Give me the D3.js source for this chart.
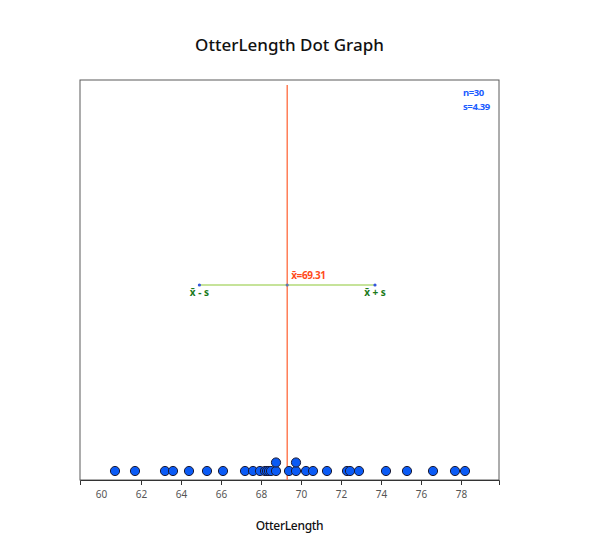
<!DOCTYPE html>
<html>
<head>
<meta charset="utf-8">
<script src="https://cdn.jsdelivr.net/npm/d3@7"></script>
<style>
  body { margin: 0; background: #fff; }
  svg { font-family: "Noto Sans", "Open Sans", sans-serif; }
</style>
</head>
<body>
<svg id="chart" width="600" height="560"></svg>
<script>
const title = "OtterLength Dot Graph";
const xLabel = "OtterLength";
const otterLength = [60.7, 61.7, 63.2, 63.6, 64.4, 65.3, 66.1, 67.2, 67.6, 67.95,
  68.2, 68.3, 68.4, 68.5, 68.75, 68.75, 69.4, 69.75, 69.75, 70.25,
  70.6, 71.3, 72.3, 72.45, 72.9, 74.25, 75.3, 76.6, 77.7, 78.2];
const tickValues = [60, 62, 64, 66, 68, 70, 72, 74, 76, 78];
const statN = 30;
const statMean = 69.31;
const statSD = 4.39;

const svg = d3.select("#chart");
const L = 80, R = 499, T = 80, B = 480;

const x = d3.scaleLinear().domain([58.95, 79.9]).range([L, R]);

// frame
svg.append("rect").attr("x", L).attr("y", T).attr("width", R - L).attr("height", B - T)
  .attr("fill", "none").attr("stroke", "#5a5a5a").attr("stroke-width", 1);

// title
svg.append("text").attr("x", (L + R) / 2).attr("y", 51).attr("text-anchor", "middle")
  .attr("font-size", 17).attr("font-weight", 500).attr("fill", "#111").text(title);

// axis
const axis = svg.append("g").attr("transform", `translate(0,${B})`)
  .call(d3.axisBottom(x).tickValues(tickValues).tickSize(5).tickSizeOuter(5).tickFormat(d3.format("d")));
axis.select(".domain").attr("stroke", "#333");
axis.selectAll(".tick line").attr("stroke", "#333");
axis.selectAll(".tick").filter(d => d === 60).select("line").remove();
axis.selectAll(".tick text").attr("font-size", 10).attr("fill", "#555").attr("dy", "0.95em")
  .attr("font-family", "Noto Sans, sans-serif");

// x label
svg.append("text").attr("x", (L + R) / 2).attr("y", 530).attr("text-anchor", "middle")
  .attr("font-size", 12).attr("font-weight", 500).attr("fill", "#111").attr("letter-spacing", -0.3).text(xLabel);

// mean vertical line
svg.append("line").attr("x1", x(statMean)).attr("x2", x(statMean)).attr("y1", 85).attr("y2", B)
  .attr("stroke", "#ff6a3d").attr("stroke-width", 1.3);

// mean ± sd line
const yS = 285;
svg.append("line").attr("x1", x(statMean - statSD)).attr("x2", x(statMean + statSD))
  .attr("y1", yS).attr("y2", yS).attr("stroke", "#c6e39a").attr("stroke-width", 2);
[statMean - statSD, statMean + statSD].forEach(v => {
  svg.append("circle").attr("cx", x(v)).attr("cy", yS).attr("r", 1.6).attr("fill", "#3355dd");
});
svg.append("circle").attr("cx", x(statMean)).attr("cy", yS).attr("r", 1.6).attr("fill", "#6677aa");

svg.append("text").attr("x", x(statMean) + 4).attr("y", 279).attr("font-size", 10)
  .attr("font-weight", 700).attr("fill", "#ff4a1a").attr("letter-spacing", -0.4).text("x\u0304=" + statMean.toFixed(2));
svg.append("text").attr("x", x(statMean - statSD)).attr("y", 296).attr("text-anchor", "middle")
  .attr("font-size", 10).attr("font-weight", 700).attr("fill", "#1a7a1a").text("x\u0304 - s");
svg.append("text").attr("x", x(statMean + statSD)).attr("y", 296).attr("text-anchor", "middle")
  .attr("font-size", 10).attr("font-weight", 700).attr("fill", "#1a7a1a").text("x\u0304 + s");

// stats text
svg.append("text").attr("x", 463).attr("y", 96).attr("font-size", 9.5).attr("font-weight", 700)
  .attr("fill", "#1a5cff").attr("letter-spacing", -0.4).text("n=" + statN);
svg.append("text").attr("x", 463).attr("y", 110).attr("font-size", 9.5).attr("font-weight", 700)
  .attr("fill", "#1a5cff").attr("letter-spacing", -0.4).text("s=" + statSD.toFixed(2));

// dots, stacked for equal values
const counts = new Map();
const pts = otterLength.map(v => {
  const k = counts.get(v) || 0;
  counts.set(v, k + 1);
  return { v, k };
});
svg.append("g").selectAll("circle").data(pts).join("circle")
  .attr("cx", d => x(d.v)).attr("cy", d => 471 - d.k * 8.5).attr("r", 4.6)
  .attr("fill", "#0a5af5").attr("stroke", "#1a1a33").attr("stroke-width", 1);
</script>
</body>
</html>
